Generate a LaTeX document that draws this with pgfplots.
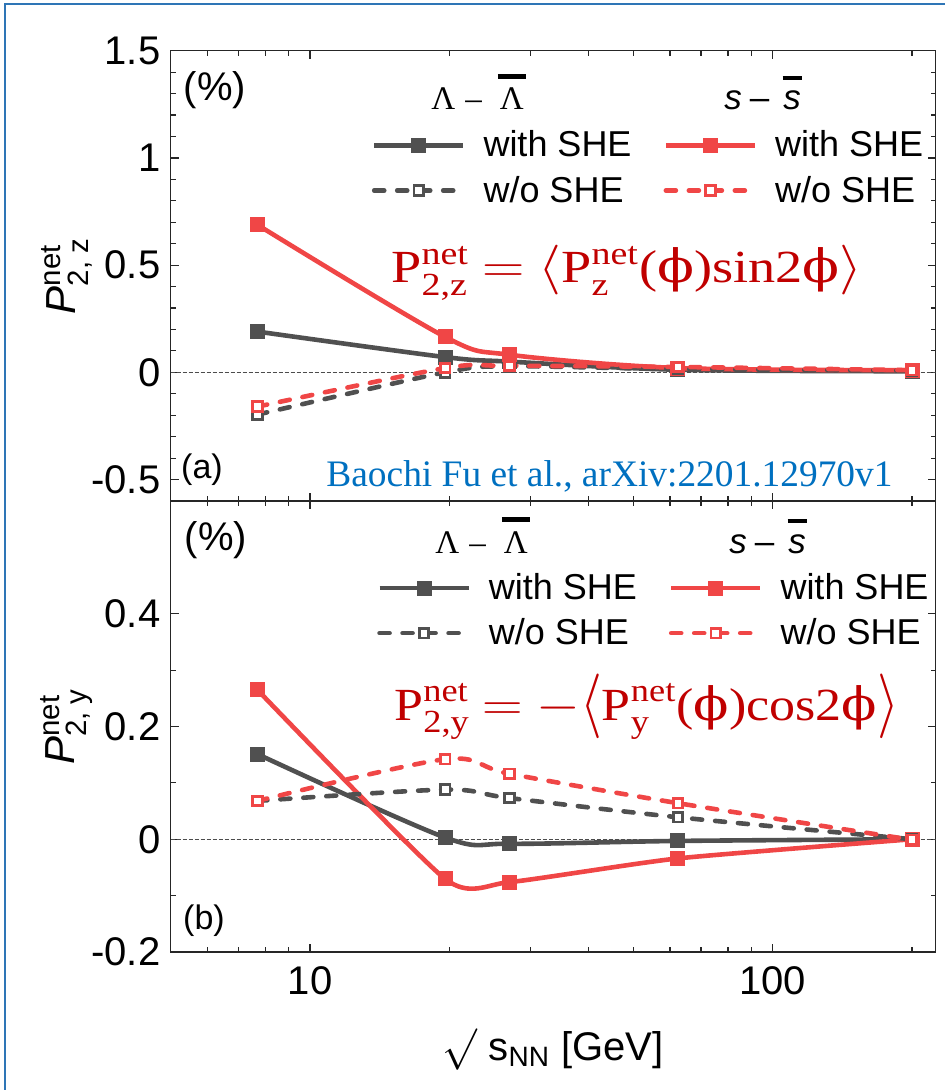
\documentclass[border=0pt]{standalone}
\usepackage{pgfplots}
\pgfplotsset{compat=1.18}
\usepackage{graphicx}
\usepackage{fontspec}
\usepackage{amsmath}
\setmainfont{Liberation Sans}
\newfontfamily\serif{Liberation Serif}
\newfontfamily\dvserif{DejaVu Serif}
\definecolor{cgray}{RGB}{80,80,80}
\definecolor{cred}{RGB}{240,70,70}
\definecolor{fred}{RGB}{192,0,0}
\definecolor{cblue}{RGB}{0,112,192}
\definecolor{bblue}{RGB}{46,117,182}
\newcommand\bbar[3]{\ooalign{#1\cr\hidewidth\raisebox{#2}{\rule{#3}{0.13em}}\hidewidth\cr}}

\pgfplotstableread{
x     lw      sw      lo      so
7.7   0.190   0.688  -0.197  -0.160
19.6  0.071   0.165   0.000   0.020
27    0.050   0.082   0.028   0.030
62.4  0.012   0.020   0.015   0.025
200   0.005   0.010   0.008   0.010
}\topdata
\pgfplotstableread{
x     lw      sw      lo      so
7.7   0.151   0.265   0.068   0.068
19.6  0.003  -0.0705  0.088   0.142
27   -0.008  -0.076   0.073   0.116
62.4 -0.003  -0.034   0.039   0.064
200   0.000   0.000   0.000  -0.001
}\botdata

\tikzset{
  plw/.style={cgray, line width=2.3pt, smooth, mark=square*, mark size=2.6pt, mark options={solid, fill=cgray}},
  psw/.style={cred, line width=2.3pt, smooth, mark=square*, mark size=2.6pt, mark options={solid, fill=cred}},
  plo/.style={cgray, line width=2.3pt, smooth, line cap=round, dash pattern=on 5pt off 6.5pt, mark=square*, mark size=2.4pt, mark options={solid, fill=white, line width=1.4pt}},
  pso/.style={cred, line width=2.3pt, smooth, line cap=round, dash pattern=on 5pt off 6.5pt, mark=square*, mark size=2.4pt, mark options={solid, fill=white, line width=1.4pt}},
}
\pgfplotsset{
  legend image code/.code={\draw[mark repeat=2,mark phase=2,#1] plot coordinates {(0pt,0pt) (22.25pt,0pt) (44.5pt,0pt)};},
}

\begin{document}
\begin{tikzpicture}
\useasboundingbox (0,0) rectangle (472.5pt,-545pt);
\draw[bblue, line width=1pt] (2.4pt,-545pt) -- (2.4pt,-1.8pt) -- (472.5pt,-1.8pt);

% ---------- top panel ----------
\begin{axis}[
  xmode=log, xmin=5, xmax=225, scale only axis, width=382.5pt, height=225.15pt,
  at={(85.35pt,-25.35pt)}, anchor=north west,
  axis line style={black!85, line width=0.6pt},
  tick align=inside, tick style={black!85, line width=0.6pt},
  major tick length=4pt, minor tick length=2.5pt,
  xtick={10,100}, minor xtick={6,7,8,9,20,30,40,50,60,70,80,90,200},
  xticklabel pos=lower,
  yticklabel style={font=\fontsize{20}{24}\selectfont, inner sep=0pt, xshift=-5pt},
  xticklabel style={font=\fontsize{20}{24}\selectfont, inner sep=0pt, yshift=-7pt},
  legend columns=2,
  legend style={draw=none, fill=none, inner sep=0pt, outer sep=0pt,
    font=\fontsize{18}{21}\selectfont,
    column sep=7pt, row sep=4pt,
    cells={anchor=west},
    /tikz/every even column/.append style={column sep=14pt},
    at={(0.263,0.7395)}, anchor=west},
  ylabel style={at={(axis description cs:-0.136,0.5)}, anchor=center, font=\fontsize{21}{24}\selectfont},
  ymin=-0.6, ymax=1.5, ytick={-0.5,0,0.5,1,1.5}, yticklabels={-0.5,0,0.5,1,1.5},
  minor y tick num=4, xticklabels={},
  ylabel={\textit{P}$^{\text{net}}_{\text{2, z}}$},
  ]
\addplot[forget plot, black!70, line width=0.5pt, dash pattern=on 2pt off 1pt] coordinates {(5,0) (225,0)};
\addplot[plw] table[x=x, y=lw] {\topdata};
\addplot[psw] table[x=x, y=sw] {\topdata};
\addplot[plo] table[x=x, y=lo] {\topdata};
\addplot[pso] table[x=x, y=so] {\topdata};
\legend{with SHE, with SHE, w/o SHE, w/o SHE}
\end{axis}

% ---------- bottom panel ----------
\begin{axis}[
  xmode=log, xmin=5, xmax=225, scale only axis, width=382.5pt, height=225.5pt,
  at={(85.35pt,-250.5pt)}, anchor=north west,
  axis line style={black!85, line width=0.6pt},
  tick align=inside, tick style={black!85, line width=0.6pt},
  major tick length=4pt, minor tick length=2.5pt,
  xtick={10,100}, minor xtick={6,7,8,9,20,30,40,50,60,70,80,90,200},
  xticklabel pos=lower,
  yticklabel style={font=\fontsize{20}{24}\selectfont, inner sep=0pt, xshift=-5pt},
  xticklabel style={font=\fontsize{20}{24}\selectfont, inner sep=0pt, yshift=-7pt},
  legend columns=2,
  legend style={draw=none, fill=none, inner sep=0pt, outer sep=0pt,
    font=\fontsize{18}{21}\selectfont,
    column sep=7pt, row sep=4pt,
    cells={anchor=west},
    /tikz/every even column/.append style={column sep=14pt},
    at={(0.270,0.757)}, anchor=west},
  ylabel style={at={(axis description cs:-0.136,0.5)}, anchor=center, font=\fontsize{21}{24}\selectfont},
  ymin=-0.2, ymax=0.6, ytick={-0.2,0,0.2,0.4}, yticklabels={-0.2,0,0.2,0.4},
  minor y tick num=1, xticklabels={10,100},
  ylabel={\textit{P}$^{\text{net}}_{\text{2, y}}$},
  xlabel={$\surd$ s$_{\text{NN}}$ [GeV]},
  xlabel style={at={(axis description cs:0.5,-0.217)}, anchor=center, font=\fontsize{20}{24}\selectfont},
  ]
\addplot[forget plot, black!70, line width=0.5pt, dash pattern=on 2pt off 1pt] coordinates {(5,0) (225,0)};
\addplot[plw] table[x=x, y=lw] {\botdata};
\addplot[psw, tension=0.35] table[x=x, y=sw] {\botdata};
\addplot[plo] table[x=x, y=lo] {\botdata};
\addplot[pso] table[x=x, y=so] {\botdata};
\legend{with SHE, with SHE, w/o SHE, w/o SHE}
\end{axis}

% ---------- annotations ----------
\node[font=\fontsize{20}{24}\selectfont] at (107.5pt,-45pt) {(\%)};
\node[font=\fontsize{20}{24}\selectfont] at (108pt,-270pt) {(\%)};
\node[font=\fontsize{17}{20}\selectfont] at (101pt,-235pt) {(a)};
\node[font=\fontsize{17}{20}\selectfont] at (102pt,-460.5pt) {(b)};

\node[anchor=base west, inner sep=0pt, font=\fontsize{16.5}{19}\selectfont\serif] at (215.5pt,-55pt) {Λ\hspace{5pt}–\hspace{9pt}\bbar{Λ}{0.95em}{0.85em}};
\node[anchor=base west, inner sep=0pt, font=\fontsize{17.5}{20}\selectfont] at (362pt,-55pt) {\textit{s}\hspace{4pt}–\hspace{7pt}\bbar{\textit{s}}{0.85em}{0.55em}};
\node[anchor=base west, inner sep=0pt, font=\fontsize{16.5}{19}\selectfont\serif] at (217.5pt,-276.5pt) {Λ\hspace{5pt}–\hspace{9pt}\bbar{Λ}{0.95em}{0.85em}};
\node[anchor=base west, inner sep=0pt, font=\fontsize{17.5}{20}\selectfont] at (364.5pt,-276.5pt) {\textit{s}\hspace{4pt}–\hspace{7pt}\bbar{\textit{s}}{0.85em}{0.55em}};

\node[anchor=base west, text=fred, inner sep=0pt, font=\fontsize{23}{26}\selectfont\serif] at (195.5pt,-141.5pt)
  {\scalebox{1.18}[1]{P$^{\text{net}}_{\text{2,z}}$ $=$ $\langle$P$^{\text{net}}_{\text{z}}$({\dvserif ϕ})sin2{\dvserif ϕ}$\rangle$}};
\node[anchor=base west, text=fred, inner sep=0pt, font=\fontsize{23}{26}\selectfont\serif] at (197pt,-360pt)
  {\scalebox{1.13}[1]{P$^{\text{net}}_{\text{2,y}}$ $=$ $-$\raisebox{-1pt}{\scalebox{1}[1.3]{$\langle$}}P$^{\text{net}}_{\text{y}}$({\dvserif ϕ})cos2{\dvserif ϕ}\raisebox{-1pt}{\scalebox{1}[1.3]{$\rangle$}}}};

\node[anchor=base west, text=cblue, inner sep=0pt, font=\fontsize{18.7}{22}\selectfont\serif] at (163pt,-243pt)
  {Baochi Fu et al., arXiv:2201.12970v1};
\end{tikzpicture}
\end{document}
